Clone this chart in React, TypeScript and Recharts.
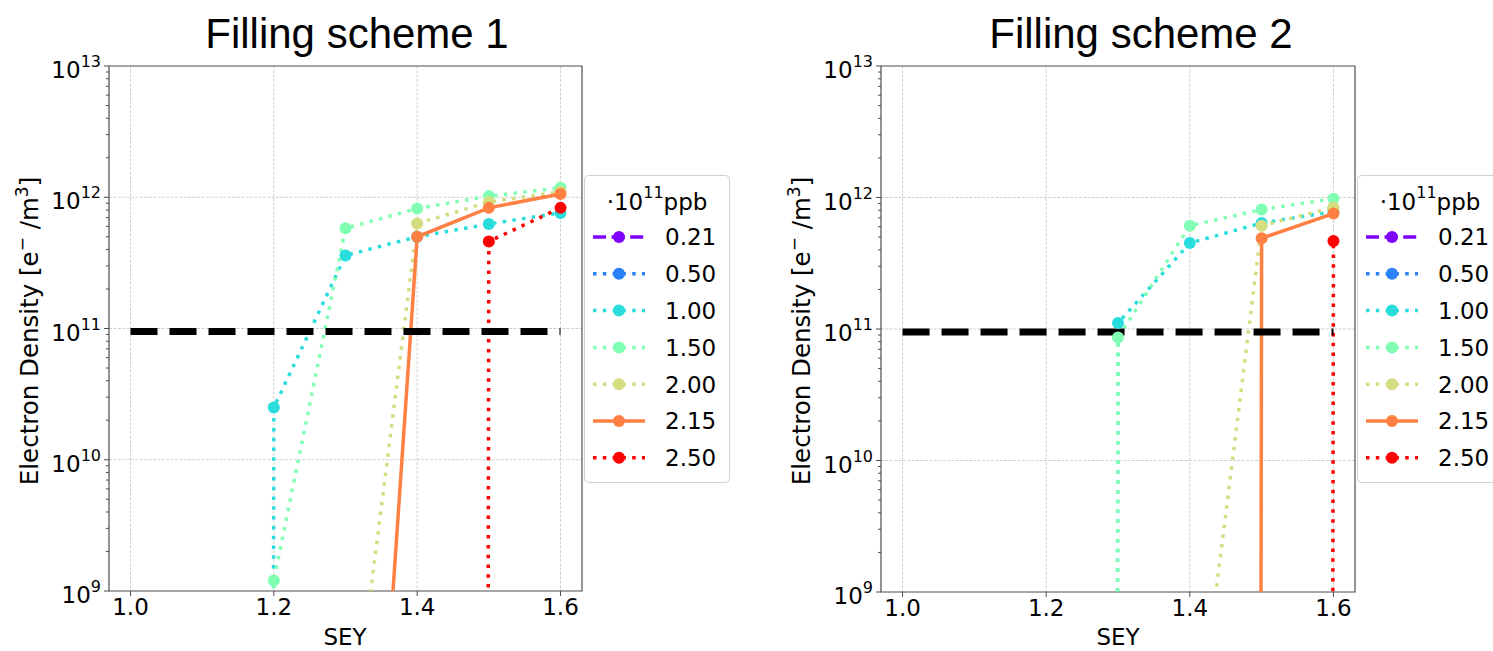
import React from "react";
import { LineChart, Line, XAxis, YAxis, CartesianGrid, ReferenceArea, Legend } from "recharts";

// SEY scan points
const SEY = [1.0, 1.1, 1.2, 1.3, 1.4, 1.5, 1.6];
const SEY_TICKS = [1.0, 1.2, 1.4, 1.6];

// bunch intensities (·10^11 ppb)
const INTENSITY_LABELS = ["0.21", "0.50", "1.00", "1.50", "2.00", "2.15", "2.50"];
const COLORS = ["#8000ff", "#2a80f6", "#2adddd", "#80ffb4", "#d4dd80", "#ff8042", "#ff0000"];
const LINE_STYLES = ["dashed", "dotted", "dotted", "dotted", "dotted", "solid", "dotted"];

// electron density [e-/m^3], filling scheme 1 (0 = no build-up)
const S1_021 = [0, 0, 0, 0, 0, 0, 0];
const S1_050 = [0, 0, 0, 0, 0, 0, 0];
const S1_100 = [0, 0, 2.5e10, 3.6e11, 5.0e11, 6.25e11, 7.6e11];
const S1_150 = [0, 0, 1.2e9, 5.8e11, 8.2e11, 1.02e12, 1.18e12];
const S1_200 = [0, 0, 0, 3e7, 6.3e11, 9.2e11, 1.1e12];
const S1_215 = [0, 0, 0, 5e3, 5.0e11, 8.3e11, 1.06e12];
const S1_250 = [0, 0, 0, 0, 0, 4.6e11, 8.3e11];

// filling scheme 2
const S2_021 = [0, 0, 0, 0, 0, 0, 0];
const S2_050 = [0, 0, 0, 0, 0, 0, 0];
const S2_100 = [0, 0, 0, 1.11e11, 4.5e11, 6.4e11, 7.8e11];
const S2_150 = [0, 0, 0, 8.6e10, 6.1e11, 8.1e11, 9.8e11];
const S2_200 = [0, 0, 0, 0, 2.5e7, 6.1e11, 8.4e11];
const S2_215 = [0, 0, 0, 0, 0, 4.9e11, 7.55e11];
const S2_250 = [0, 0, 0, 0, 0, 0, 4.67e11];

// threshold density (black dashed)
const THRESHOLD = [9.5e10, 9.5e10, 9.5e10, 9.5e10, 9.5e10, 9.5e10, 9.5e10];

const MAJOR_Y = [1e9, 1e10, 1e11, 1e12, 1e13];
const MINOR_MULT = [2, 3, 4, 5, 6, 7, 8, 9];

const FONT = "DejaVu Sans";
const AXIS_COLOR = "#4d4d4d";
const GRID_COLOR = "#c4c4c4";
// like matplotlib's nonpositive='clip'
const NONPOS_FLOOR = 1e-300;

const yTicks = [
  ...MAJOR_Y,
  ...MAJOR_Y.slice(0, -1).flatMap((d) => MINOR_MULT.map((m) => m * d)),
].sort((a, b) => a - b);

function dashFor(style: string) {
  if (style === "dashed") return "13 5.6";
  if (style === "dotted") return "3.5 6.3";
  return undefined;
}

function buildRows(series: number[][]) {
  return SEY.map((x, i) => {
    const row: Record<string, number> = { sey: x, thr: THRESHOLD[i] };
    series.forEach((s, k) => {
      row["s" + k] = s[i] > 0 ? s[i] : NONPOS_FLOOR;
    });
    return row;
  });
}

const rows1 = buildRows([S1_021, S1_050, S1_100, S1_150, S1_200, S1_215, S1_250]);
const rows2 = buildRows([S2_021, S2_050, S2_100, S2_150, S2_200, S2_215, S2_250]);

function LogTick(props: any) {
  const { x, y, payload } = props;
  const e = Math.log10(payload.value);
  const exp = Math.round(e);
  const major = Math.abs(e - exp) < 1e-9;
  return (
    <g>
      <line x1={x} x2={x - (major ? 5 : 3)} y1={y} y2={y} stroke={AXIS_COLOR} strokeWidth={1} />
      {major && (
        <text x={x - 8} y={y + 12} textAnchor="end" fontSize={23} fontFamily={FONT} fill="#000">
          10
          <tspan dy={-11} fontSize={16}>
            {exp}
          </tspan>
        </text>
      )}
    </g>
  );
}

function SchemeLegend() {
  return (
    <svg width={146} height={308} style={{ display: "block" }}>
      <rect x={0.5} y={0.5} width={145} height={307} rx={4} fill="#fff" fillOpacity={0.85} stroke="#d0d0d0" />
      <text x={73} y={35} textAnchor="middle" fontSize={23} fontFamily={FONT} fill="#000">
        ·10
        <tspan dy={-12} fontSize={16}>
          11
        </tspan>
        <tspan dy={12}>ppb</tspan>
      </text>
      {INTENSITY_LABELS.map((lab, i) => {
        const cy = 62 + i * 36.8;
        return (
          <g key={lab}>
            <line x1={9} x2={61} y1={cy} y2={cy} stroke={COLORS[i]} strokeWidth={3.5} strokeDasharray={dashFor(LINE_STYLES[i])} />
            <circle cx={35} cy={cy} r={6} fill={COLORS[i]} />
            <text x={81} y={cy + 8.4} fontSize={23} fontFamily={FONT} fill="#000">
              {lab}
            </text>
          </g>
        );
      })}
    </svg>
  );
}

interface PanelProps {
  rows: Record<string, number>[];
  width: number;
  marginLeft: number;
  marginRight: number;
  xAxisHeight: number;
  legendLeft: number;
  yTitleX: number;
  xTitleX: number;
}

function Panel({ rows, width, marginLeft, marginRight, xAxisHeight, legendLeft, yTitleX, xTitleX }: PanelProps) {
  return (
    <LineChart width={width} height={651} data={rows} margin={{ top: 66, right: marginRight, bottom: 0, left: marginLeft }}>
      <CartesianGrid
        horizontalValues={[1e10, 1e11, 1e12]}
        verticalValues={SEY_TICKS}
        stroke={GRID_COLOR}
        strokeWidth={0.8}
        strokeDasharray="3 1.4"
      />
      <XAxis
        type="number"
        dataKey="sey"
        domain={[0.97, 1.63]}
        allowDataOverflow
        ticks={SEY_TICKS}
        interval={0}
        tickFormatter={(v: number) => v.toFixed(1)}
        tick={{ fontSize: 23, fill: "#000", fontFamily: FONT }}
        tickSize={5}
        tickMargin={3}
        tickLine={{ stroke: AXIS_COLOR }}
        axisLine={false}
        height={xAxisHeight}
        label={{
          content: () => (
            <text x={xTitleX} y={645} textAnchor="middle" fontSize={23} fontFamily={FONT} fill="#000">
              SEY
            </text>
          ),
        }}
      />
      <YAxis
        type="number"
        scale="log"
        domain={[1e9, 1e13]}
        allowDataOverflow
        ticks={yTicks}
        interval={0}
        tick={<LogTick />}
        tickLine={false}
        axisLine={false}
        tickSize={0}
        tickMargin={0}
        width={60}
        label={{
          content: () => (
            <text transform={`translate(${yTitleX}, 331) rotate(-90)`} textAnchor="middle" fontSize={24.5} fontFamily={FONT} fill="#000">
              Electron Density [e
              <tspan dy={-10} fontSize={17}>
                −
              </tspan>
              <tspan dy={10}>{" /m"}</tspan>
              <tspan dy={-10} fontSize={17}>
                3
              </tspan>
              <tspan dy={10}>]</tspan>
            </text>
          ),
        }}
      />
      <ReferenceArea x1={0.97} x2={1.63} y1={1e9} y2={1e13} fill="none" fillOpacity={0} stroke={AXIS_COLOR} strokeWidth={1.2} />
      {INTENSITY_LABELS.map((lab, k) => (
        <Line
          key={lab}
          name={lab}
          type="linear"
          dataKey={"s" + k}
          stroke={COLORS[k]}
          strokeWidth={3.5}
          strokeDasharray={dashFor(LINE_STYLES[k])}
          strokeLinecap="butt"
          dot={{ r: 6, fill: COLORS[k], stroke: "none", strokeDasharray: "" }}
          activeDot={false}
          isAnimationActive={false}
        />
      ))}
      <Line
        dataKey="thr"
        type="linear"
        stroke="#000"
        strokeWidth={7}
        strokeDasharray="27 12"
        strokeLinecap="butt"
        dot={false}
        activeDot={false}
        legendType="none"
        isAnimationActive={false}
      />
      <Legend
        layout="vertical"
        align="center"
        verticalAlign="middle"
        content={() => <SchemeLegend />}
        wrapperStyle={{ left: legendLeft, top: 175, width: 146, height: 308 }}
      />
    </LineChart>
  );
}

const titleStyle: React.CSSProperties = {
  position: "absolute",
  top: 13,
  width: 400,
  textAlign: "center",
  fontFamily: "Liberation Sans, Arial, sans-serif",
  fontSize: 42,
  lineHeight: "42px",
  color: "#000",
  whiteSpace: "nowrap",
};

export default function App() {
  return (
    <div
      style={{
        position: "absolute",
        left: 0,
        top: 0,
        width: 1493,
        height: 651,
        overflow: "hidden",
        background: "#fff",
      }}
    >
      <div style={{ position: "absolute", left: 0, top: 0 }}>
        <Panel rows={rows1} width={770} marginLeft={49} marginRight={188} xAxisHeight={60} legendLeft={584} yTitleX={38} xTitleX={345} />
      </div>
      <div style={{ position: "absolute", left: 770, top: 0 }}>
        <Panel rows={rows2} width={723} marginLeft={51} marginRight={138} xAxisHeight={59} legendLeft={587} yTitleX={40} xTitleX={348} />
      </div>
      <div style={{ ...titleStyle, left: 357 - 200 }}>Filling scheme 1</div>
      <div style={{ ...titleStyle, left: 1141 - 200 }}>Filling scheme 2</div>
    </div>
  );
}
